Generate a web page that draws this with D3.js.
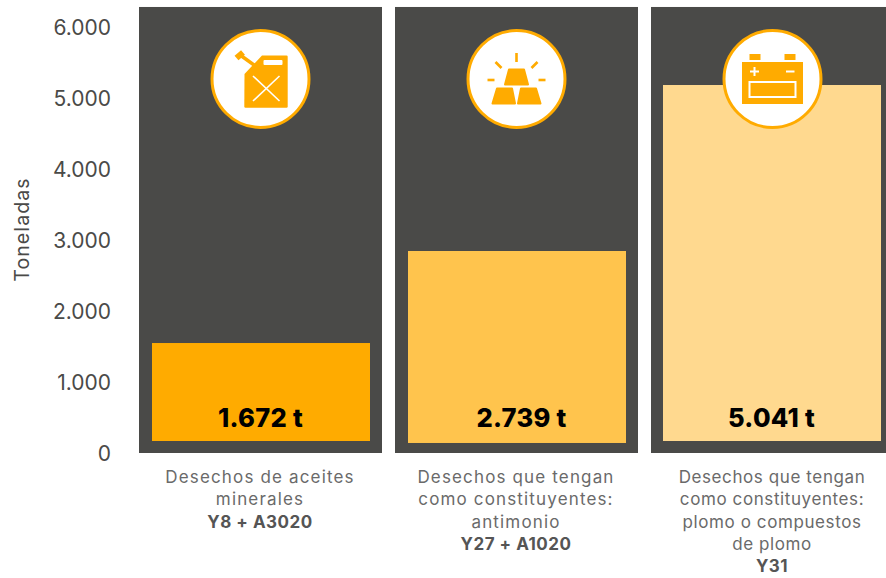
<!DOCTYPE html>
<html>
<head>
<meta charset="utf-8">
<script src="https://cdnjs.cloudflare.com/ajax/libs/d3/7.8.5/d3.min.js"></script>
<style>
  html, body { margin: 0; padding: 0; background: #fff; overflow: hidden; }
  svg { display: block; }
  text { font-family: Inter, "Open Sans", sans-serif; }
</style>
</head>
<body>
<div id="canvas"></div>
<script>
var categories = [
  ["Desechos de aceites", "minerales"],
  ["Desechos que tengan", "como constituyentes:", "antimonio"],
  ["Desechos que tengan", "como constituyentes:", "plomo o compuestos", "de plomo"]
];
var codes = ["Y8 + A3020", "Y27 + A1020", "Y31"];
var barLabels = ["1.672 t", "2.739 t", "5.041 t"];
// bar ends; the bars float a little above zero in the original
var barTops = [1549, 2845, 5183];
var barBases = [169, 141, 169];
var panelTop = 6282;
var tickValues = [0, 1000, 2000, 3000, 4000, 5000, 6000];
var tickLabels = ["0", "1.000", "2.000", "3.000", "4.000", "5.000", "6.000"];
var colors = ["#ffab00", "#ffc44d", "#ffd98f"];

var width = 886;
var height = 578;
var orange = "#ffab00";

var svg = d3.select("#canvas").append("svg")
  .attr("width", width)
  .attr("height", height);

var y = d3.scaleLinear().domain([0, 6000]).range([453, 27]);
var x = d3.scaleBand().domain(d3.range(categories.length)).range([139, 894]).paddingInner(13 / 256).paddingOuter(0);

// y axis
var axis = d3.axisLeft(y).tickValues(tickValues).tickSize(0).tickPadding(0)
  .tickFormat(function(d, i) { return tickLabels[i]; });
var axisG = svg.append("g").attr("transform", "translate(111,0.6)").call(axis);
axisG.select(".domain").remove();
axisG.selectAll("text")
  .attr("font-size", 21)
  .attr("font-weight", 400)
  .attr("fill", "#4a4a48")
  .style("font-family", "Inter, sans-serif");

svg.append("text")
  .attr("transform", "translate(23.5,229.5) rotate(-90)")
  .attr("text-anchor", "middle")
  .attr("dominant-baseline", "middle")
  .attr("font-size", 19.5)
  .attr("letter-spacing", 1.1)
  .attr("font-weight", 400)
  .attr("fill", "#4a4a48")
  .text("Toneladas");

// dark panels behind each bar
svg.selectAll("rect.panel").data(categories).join("rect")
  .attr("class", "panel")
  .attr("x", function(d, i) { return x(i); })
  .attr("y", y(panelTop))
  .attr("width", x.bandwidth())
  .attr("height", y(0) - y(panelTop))
  .attr("fill", "#4a4a48");

var inset = [13, 13, 12];
svg.selectAll("rect.bar").data(barTops).join("rect")
  .attr("class", "bar")
  .attr("x", function(d, i) { return x(i) + inset[i]; })
  .attr("y", function(d) { return y(d); })
  .attr("width", 218)
  .attr("height", function(d, i) { return y(barBases[i]) - y(d); })
  .attr("fill", function(d, i) { return colors[i]; });

// the value labels are not quite centred in the original
var valueShift = [0, 5, -1];
svg.selectAll("text.val").data(barLabels).join("text")
  .attr("class", "val")
  .attr("x", function(d, i) { return x(i) + x.bandwidth() / 2 + valueShift[i]; })
  .attr("y", 427)
  .attr("text-anchor", "middle")
  .attr("font-size", 25.5)
  .attr("letter-spacing", 0.3)
  .attr("font-weight", 800)
  .attr("fill", "#000")
  .text(function(d) { return d; });

// category labels under the panels
var lineSpacing = [1.15, 1.15, 0.6];
categories.forEach(function(lines, i) {
  var cx = x(i) + x.bandwidth() / 2 - 0.5;
  var t = svg.append("text")
    .attr("text-anchor", "middle")
    .attr("font-size", 17)
    .attr("fill", "#6a6a6a");
  lines.forEach(function(line, j) {
    t.append("tspan").attr("x", cx).attr("y", 483 + j * 22.3)
      .attr("letter-spacing", lineSpacing[i])
      .attr("font-weight", 400).text(line);
  });
  t.append("tspan").attr("x", cx).attr("y", 483 + lines.length * 22.3)
    .attr("letter-spacing", 0.5)
    .attr("fill", "#555")
    .attr("font-weight", 700).text(codes[i]);
});

// badges
var icons = [drawCan, drawGold, drawBattery];
icons.forEach(function(draw, i) {
  var cx = x(i) + x.bandwidth() / 2;
  var g = svg.append("g").attr("transform", "translate(" + cx + ",79)");
  g.append("circle").attr("r", 48.5).attr("fill", "#fff").attr("stroke", orange).attr("stroke-width", 3);
  draw(g);
});

function whiteLine(g, x1, y1, x2, y2, w) {
  g.append("line").attr("x1", x1).attr("y1", y1).attr("x2", x2).attr("y2", y2)
    .attr("stroke", "#fff").attr("stroke-width", w);
}
function orangeLine(g, x1, y1, x2, y2, w) {
  g.append("line").attr("x1", x1).attr("y1", y1).attr("x2", x2).attr("y2", y2)
    .attr("stroke", orange).attr("stroke-width", w);
}

function drawCan(g) {
  orangeLine(g, -19, -23, -5, -13, 3.5);
  orangeLine(g, -24, -21, -17.5, -26.5, 6);
  g.append("path").attr("fill", orange)
    .attr("d", "M-16,-5 L1.5,-23.5 H26 a1.2,1.2 0 0 1 1.2,1.2 V27.5 a1.2,1.2 0 0 1 -1.2,1.2 H-15 a1.2,1.2 0 0 1 -1.2,-1.2 Z");
  g.append("rect").attr("x", 3).attr("y", -19).attr("width", 19).attr("height", 5).attr("rx", 1).attr("fill", "#fff");
  whiteLine(g, -7.5, -3, 19, 22, 1.6);
  whiteLine(g, 19, -3, -7.5, 22, 1.6);
}

function drawGold(g) {
  var rays = [[0, -26, 0, -17], [-21, -17, -15, -11], [21, -17, 15, -11], [-29, 1, -22, 1], [22, 1, 29, 1]];
  rays.forEach(function(r) {
    orangeLine(g, r[0], r[1], r[2], r[3], 2.6);
  });
  var blocks = [
    "M-7.5,-9.5 H7.5 L11.5,5.5 H-11.5 Z",
    "M-19.5,9.5 H-4.5 L-1.5,24.5 H-24 Z",
    "M4.5,9.5 H19.5 L24,24.5 H1.5 Z"
  ];
  blocks.forEach(function(b) {
    g.append("path").attr("d", b).attr("fill", orange)
      .attr("stroke", orange).attr("stroke-width", 2).attr("stroke-linejoin", "round");
  });
}

function drawBattery(g) {
  g.append("rect").attr("x", -23).attr("y", -25).attr("width", 11).attr("height", 6).attr("fill", orange);
  g.append("rect").attr("x", 12).attr("y", -25).attr("width", 11).attr("height", 6).attr("fill", orange);
  g.append("rect").attr("x", -30.5).attr("y", -17).attr("width", 61).attr("height", 42).attr("fill", orange);
  whiteLine(g, -22.5, -7.5, -13.5, -7.5, 2);
  whiteLine(g, -18, -12, -18, -3, 2);
  whiteLine(g, 13.5, -7.5, 22, -7.5, 2);
  g.append("rect").attr("x", -23).attr("y", 3).attr("width", 46).attr("height", 15)
    .attr("fill", "none").attr("stroke", "#fff").attr("stroke-width", 2);
}
</script>
</body>
</html>
